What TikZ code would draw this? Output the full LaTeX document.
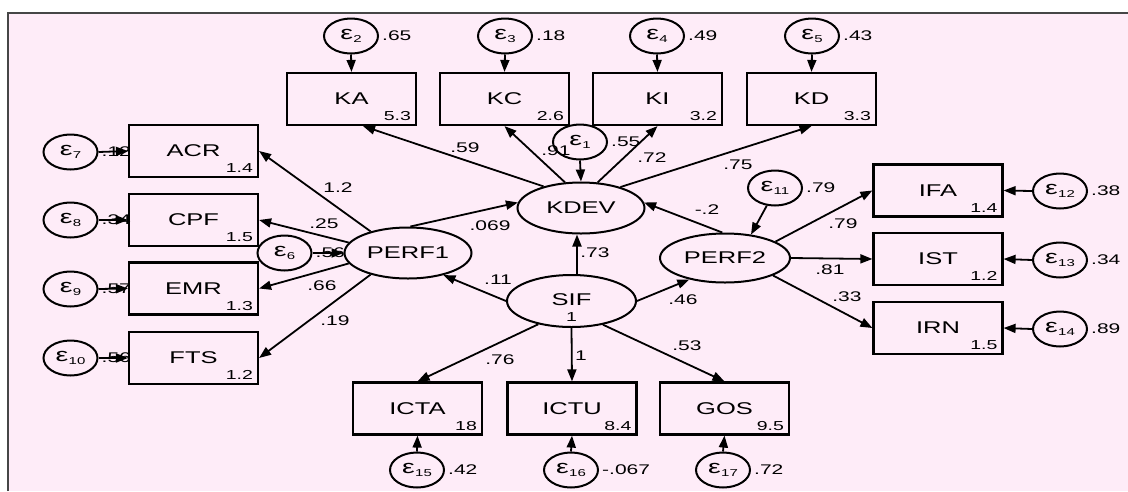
\documentclass[tikz,border=0pt]{standalone}
\usepackage{fontspec}
\setmainfont{Liberation Sans}[FakeStretch=1.5]
\usetikzlibrary{shapes.geometric,arrows.meta,calc}
\definecolor{bgpink}{RGB}{254,236,248}
\definecolor{framegray}{RGB}{70,70,70}
% error term symbol with subscript index
\newcommand{\errsym}[1]{{\fontsize{19}{19}\selectfont ε}\kern0.3pt\raisebox{-3pt}{\fontsize{10}{10}\selectfont #1}}
\begin{document}
\begin{tikzpicture}[x=1pt,y=-1pt,
  obsbox/.style={draw, rectangle, line width=2.2pt, minimum width=129pt, minimum height=52pt,
    inner sep=0pt, font=\fontsize{17}{17}\selectfont},
  latent/.style={draw, ellipse, line width=2pt, minimum width=127pt, minimum height=51pt,
    inner sep=0pt, font=\fontsize{17}{17}\selectfont},
  errc/.style={draw, ellipse, line width=2pt, minimum width=54pt, minimum height=35pt,
    inner sep=0pt},
  plab/.style={inner sep=0pt, font=\fontsize{14}{14}\selectfont},
  evalr/.style={plab, anchor=west, xshift=3pt},
  bnum/.style={inner sep=0pt, anchor=south east, font=\fontsize{13}{13}\selectfont},
  arrw/.style={line width=1.8pt, -{Triangle[length=12pt,width=9pt]}}
]
\useasboundingbox (0,0) rectangle (1128,491);
\fill[white] (0,0) rectangle (1128,491);
\fill[bgpink] (8,13) rectangle (1128,491);
\draw[line width=1.4pt, framegray] (8,491) -- (8,13) -- (1128,13);

% ---------- latent variables ----------
\node[latent] (KDEV) at (581,208) {KDEV};
\node[latent] (PERF1) at (408,253) {PERF1};
\node[latent, minimum width=130pt, minimum height=49pt] (PERF2) at (725,258) {PERF2};
\node[latent, minimum width=129pt, minimum height=52pt] (SIF) at (571.5,301) {};
\node (SIFname) at (571.5,300) [font=\fontsize{17}{17}\selectfont, inner sep=0pt] {SIF};
\node (SIFvar) at (571.5,317) [bnum, anchor=center] {1};

% ---------- observed variables ----------
\node[obsbox] (KA) at (351.5,99) {KA};
\node[obsbox] (KC) at (504.5,99) {KC};
\node[obsbox] (KI) at (657.5,99) {KI};
\node[obsbox] (KD) at (811.5,99) {KD};
\node[obsbox] (ACR) at (193.5,151) {ACR};
\node[obsbox] (CPF) at (193.5,220) {CPF};
\node[obsbox] (EMR) at (193.5,288.5) {EMR};
\node[obsbox] (FTS) at (193.5,358) {FTS};
\node[obsbox] (IFA) at (938,190.5) {IFA};
\node[obsbox] (IST) at (938,259) {IST};
\node[obsbox] (IRN) at (938,328) {IRN};
\node[obsbox] (ICTA) at (417.5,408.5) {ICTA};
\node[obsbox] (ICTU) at (572,408.5) {ICTU};
\node[obsbox] (GOS) at (724.5,408.5) {GOS};

% intercepts
\foreach \b/\v in {KA/5.3,KC/2.6,KI/3.2,KD/3.3,ACR/1.4,CPF/1.5,EMR/1.3,FTS/1.2,
                   IFA/1.4,IST/1.2,IRN/1.5,ICTA/18,ICTU/8.4,GOS/9.5}
  \node[bnum] (n\b) at ($(\b.south east)+(-6,-5)$) {\v};

% ---------- error terms ----------
\node[errc] (e1) at (580,142) {\errsym{1}};
\node[errc] (e2) at (351,36) {\errsym{2}};
\node[errc] (e3) at (505,36) {\errsym{3}};
\node[errc] (e4) at (657,36) {\errsym{4}};
\node[errc] (e5) at (812,36) {\errsym{5}};
\node[errc] (e6) at (284.5,253) {\errsym{6}};
\node[errc] (e7) at (70.5,152) {\errsym{7}};
\node[errc] (e8) at (70.5,220) {\errsym{8}};
\node[errc] (e9) at (70.5,289) {\errsym{9}};
\node[errc] (e10) at (70.5,358) {\errsym{10}};
\node[errc] (e11) at (775,188) {\errsym{11}};
\node[errc] (e12) at (1060,191) {\errsym{12}};
\node[errc] (e13) at (1060,260) {\errsym{13}};
\node[errc] (e14) at (1060,329) {\errsym{14}};
\node[errc] (e15) at (417,470) {\errsym{15}};
\node[errc] (e16) at (571,470) {\errsym{16}};
\node[errc] (e17) at (723,470) {\errsym{17}};

% error variances
\node[evalr] (v1) at (e1.east) {.55};
\node[evalr] (v2) at (e2.east) {.65};
\node[evalr] (v3) at (e3.east) {.18};
\node[evalr] (v4) at (e4.east) {.49};
\node[evalr] (v5) at (e5.east) {.43};
\node[evalr] (v6) at (e6.east) {.56};
\node[evalr] (v7) at (e7.east) {.12};
\node[evalr] (v8) at (e8.east) {.34};
\node[evalr] (v9) at (e9.east) {.57};
\node[evalr] (v10) at (e10.east) {.56};
\node[evalr] (v11) at (e11.east) {.79};
\node[evalr] (v12) at (e12.east) {.38};
\node[evalr] (v13) at (e13.east) {.34};
\node[evalr] (v14) at (e14.east) {.89};
\node[evalr] (v15) at (e15.east) {.42};
\node[evalr] (v16) at (e16.east) {-.067};
\node[evalr] (v17) at (e17.east) {.72};

% ---------- error paths ----------
\foreach \e/\t in {e2/KA,e3/KC,e4/KI,e5/KD,e1/KDEV}
  \draw[arrw] (\e.south) -- (\t.north);
\foreach \e/\t in {e7/ACR,e8/CPF,e9/EMR,e10/FTS}
  \draw[arrw] (\e.east) -- (\t.west);
\foreach \e/\t in {e12/IFA,e13/IST,e14/IRN}
  \draw[arrw] (\e.west) -- (\t.east);
\foreach \e/\t in {e15/ICTA,e16/ICTU,e17/GOS}
  \draw[arrw] (\e.north) -- (\t.south);
\draw[arrw] (e6.east) -- (PERF1.west);
\draw[arrw] (e11.245) -- (PERF2.42);

% ---------- structural and measurement paths ----------
\draw[arrw] (KDEV.150) -- ([xshift=11.5pt]KA.south);
\draw[arrw] (KDEV.122) -- (KC.south);
\draw[arrw] (KDEV.57) -- (KI.south);
\draw[arrw] (KDEV.28) -- (KD.south);
\draw[arrw] (PERF1.85) -- (KDEV.175);
\draw[arrw] (PERF2.96) -- (KDEV.5);
\draw[arrw] ([xshift=5.5pt]SIF.north) -- ([xshift=-4pt]KDEV.south);
\draw[arrw] (SIF.west) -- (PERF1.-32);
\draw[arrw] (SIF.east) -- (PERF2.211);
\draw[arrw] (SIF.215) -- (ICTA.north);
\draw[arrw] (SIF.south) -- (ICTU.north);
\draw[arrw] (SIF.-37) -- (GOS.north);
\draw[arrw] (PERF2.18) -- (IFA.west);
\draw[arrw] (PERF2.east) -- (IST.west);
\draw[arrw] (PERF2.-20) -- (IRN.west);
\draw[arrw] (PERF1.150) -- (ACR.east);
\draw[arrw] (PERF1.170) -- (CPF.east);
\draw[arrw] (PERF1.190) -- (EMR.east);
\draw[arrw] (PERF1.210) -- (FTS.east);

% ---------- coefficients ----------
\node[plab] (c1) at (465,148) {.59};
\node[plab] (c2) at (556,151) {.91};
\node[plab] (c3) at (652,158) {.72};
\node[plab] (c4) at (738,165) {.75};
\node[plab] (c5) at (490,226) {.069};
\node[plab] (c6) at (707,210) {-.2};
\node[plab] (c7) at (595,253) {.73};
\node[plab] (c8) at (498,280) {.11};
\node[plab] (c9) at (683,300) {.46};
\node[plab] (c10) at (500,360) {.76};
\node[plab] (c11) at (581,356) {1};
\node[plab] (c12) at (687,346) {.53};
\node[plab] (c13) at (843,224) {.79};
\node[plab] (c14) at (830,270) {.81};
\node[plab] (c15) at (847,297) {.33};
\node[plab] (c16) at (338,188) {1.2};
\node[plab] (c17) at (324,224) {.25};
\node[plab] (c18) at (322,286) {.66};
\node[plab] (c19) at (335,321) {.19};
\end{tikzpicture}
\end{document}
